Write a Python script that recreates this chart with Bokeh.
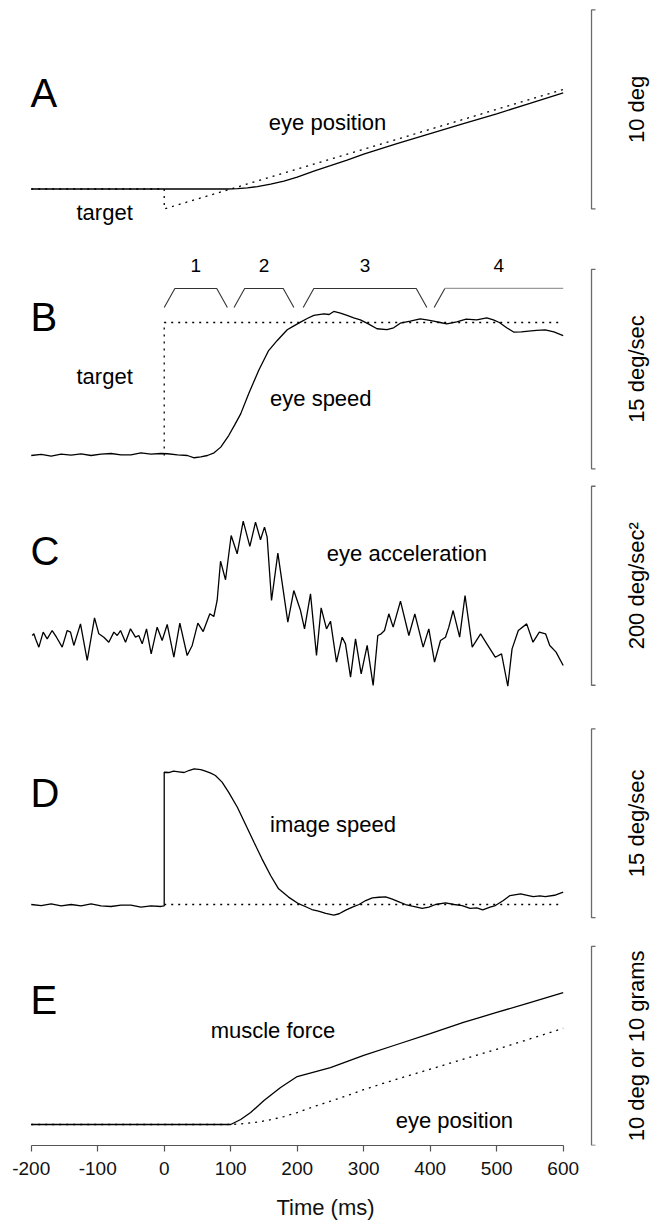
import math
from bokeh.plotting import figure
from bokeh.layouts import column
from bokeh.models import Range1d, FixedTicker
from bokeh.embed import file_html
from bokeh.resources import INLINE
from bokeh.core.properties import value

FONT = "Liberation Sans"

# ---------------- data ----------------
# Panel A / E : eye position (deg) and target position (deg)
eye_pos_t = [-200, 0, 95, 110, 125, 140, 160, 180, 200, 225, 250, 275, 300, 325, 350, 400, 450, 500, 550, 600]
eye_pos = [0, 0, 0, 0.02, 0.06, 0.12, 0.24, 0.40, 0.60, 0.90, 1.17, 1.45, 1.75, 2.02, 2.28, 2.78, 3.28, 3.78, 4.30, 4.83]
target_pos_t = [-200, 0, 0, 600]
target_pos = [0, 0, -1, 5]

# Panel B : eye speed (deg/s) and target speed
eye_speed_t = [-200, -185, -170, -155, -140, -125, -110, -95, -80, -65, -50, -35, -20, -5, 5, 20, 35, 45, 55, 65,
               75, 85, 97, 106, 115, 127, 142, 157, 170, 185, 195, 205, 215, 225, 240, 248, 255, 265, 275, 285,
               295, 307, 320, 335, 345, 355, 370, 385, 395, 405, 415, 425, 440, 454, 470, 485, 495, 504, 515, 526,
               537, 548, 560, 573, 586, 600]
eye_speed = [0.0, 0.08, -0.05, 0.1, 0.03, 0.12, 0.0, 0.1, 0.15, 0.05, 0.05, 0.2, 0.1, 0.15, 0.13, 0.05, 0.0, -0.17, -0.1, 0.0,
             0.2, 0.63, 1.5, 2.3, 3.13, 4.64, 6.39, 7.89, 8.65, 9.45, 9.75, 10.03, 10.3, 10.53, 10.65, 10.6, 10.83, 10.7, 10.53, 10.35,
             10.2, 9.9, 9.53, 9.47, 9.6, 9.95, 10.1, 10.28, 10.2, 10.1, 10.0, 9.9, 10.05, 10.25, 10.2, 10.35, 10.2, 10.0, 9.6, 9.27,
             9.3, 9.35, 9.4, 9.45, 9.3, 9.02]
target_speed_t = [0, 0, 600]
target_speed = [0, 10, 10]

# Analysis epochs shown above panel B
epoch_labels = ["1", "2", "3", "4"]
epoch_start = [0, 105, 209, 406]
epoch_end = [95, 195, 395, 600]

# Panel C : eye acceleration (deg/s^2)
eye_acc_t = [-198.5, -196, -193.5, -188.5, -182, -176, -168.5, -162, -153.4, -145.9, -140.9, -135.9, -125.9, -115.8,
             -104.8, -98.3, -90.8, -83.3, -75.7, -70.7, -65.7, -58.2, -50.7, -43.2, -38.2, -33.1, -26.6, -19.6, -10.6,
             -3.1, 4.5, 14.5, 23.5, 34.5, 42.1, 50.6, 58.6, 68.6, 74.6, 79.6, 84.7, 92.2, 100.7, 109.7, 118.8, 128.8,
             137.3, 144.8, 150.8, 154.8, 161.4, 170.9, 185.9, 194.9, 205.0, 211.0, 220.0, 229.0, 236.0, 244.1, 250.1,
             259.1, 267.6, 272.6, 280.2, 287.7, 296.2, 305.2, 314.2, 321.2, 326.3, 331.3, 337.8, 344.3, 355.3, 367.9,
             376.9, 389.4, 397.9, 406.5, 415.5, 423.0, 428.0, 434.5, 444.3, 452.4, 463.2, 475.8, 485.2, 497.8, 507.3,
             516.7, 523.1, 532.5, 545.1, 554.6, 564.1, 573.5, 579.8, 589.3, 600.0]
eye_acc = [2.0, 3.7, -1.3, -9.7, 5.4, -1.3, 7.0, 0.3, -9.7, 7.0, 5.4, -8.0, 13.7, -23.1,
           19.8, 3.7, 0.3, -4.7, 5.4, 2.0, 7.0, -4.7, 8.7, 0.3, 2.0, -6.4, 8.7, -16.4, 10.4,
           -3.0, 13.1, -19.8, 14.4, -18.1, -8.0, 14.4, 6.0, 23.8, 21.1, 37.2, 76.7, 58.0, 102.5, 84.1, 116.9, 91.5,
           115.9, 98.2, 110.9, 100.8, 37.2, 84.8, 15.4, 47.2, 27.1, 8.7, 43.9, -18.1, 29.8, 8.7, 16.4,
           -24.8, 0.3, -6.4, -39.9, -1.3, -36.5, -8.0, -48.2, 2.0, 3.7, 7.0, 23.8, 10.4, 36.5, 2.0,
           23.8, -9.7, 8.7, -24.8, -3.0, 0.3, 10.4, 27.1, 0.3, 42.2, -9.7, 3.7, -6.4, -19.8, -16.4,
           -49.0, -11.4, 7.0, 13.7, -4.7, 5.4, 3.7, -8.0, -14.7, -28.1]

# Panel D : image speed (deg/s)
image_speed_t = [-200, -185, -170, -155, -140, -125, -110, -95, -80, -65, -50, -35, -20, -5, 0, 0, 7, 14, 22, 30,
                 37, 45, 55, 62, 70, 77, 87, 97, 110, 122, 135, 147, 160, 172, 187, 202, 212, 222, 232, 243,
                 255, 263, 273, 283, 293, 303, 313, 323, 333, 343, 353, 363, 373, 388, 398, 408, 423, 436, 448, 460,
                 470, 479, 490, 498, 510, 520, 536, 546, 555, 565, 573, 587, 600]
image_speed = [0.0, -0.08, 0.05, -0.1, 0.0, -0.1, 0.05, -0.1, -0.15, -0.05, -0.05, -0.2, -0.1, -0.15, -0.1, 10.02, 10.0, 10.1, 10.05, 10.0,
               10.15, 10.27, 10.22, 10.1, 9.95, 9.77, 9.27, 8.5, 7.37, 6.1, 4.72, 3.46, 2.2, 1.19, 0.56, 0.06, -0.15, -0.38, -0.5, -0.68,
               -0.8, -0.7, -0.43, -0.2, 0.0, 0.3, 0.5, 0.55, 0.58, 0.4, 0.2, 0.0, -0.13, -0.3, -0.2, 0.0, 0.13, 0.0, -0.08, -0.3,
               -0.25, -0.4, -0.2, -0.08, 0.3, 0.68, 0.81, 0.7, 0.6, 0.65, 0.6, 0.7, 0.93]
image_zero_t = [0, 600]
image_zero = [0, 0]

# Panel E : muscle force (grams)
force_t = [-200, 100, 115, 130, 150, 175, 200, 250, 300, 350, 400, 450, 500, 550, 600]
force = [0, 0, 0.25, 0.6, 1.21, 1.86, 2.41, 2.86, 3.47, 4.02, 4.57, 5.13, 5.63, 6.13, 6.63]

# x axis
tick_values = [-200, -100, 0, 100, 200, 300, 400, 500, 600]
tick_labels = ["-200", "-100", "0", "100", "200", "300", "400", "500", "600"]

# ---------------- styling / layout ----------------
X_RANGE = Range1d(-246.2, 731.3)
FRAME_W = 650
SB_X = 642.6       # scale bar x (ms units of the shared x scale)
SB_LBL_X = 710.0   # rotated scale label x
LETTER_X = -201
TRACE = dict(line_color="black", line_width=1.3)
DOTS = dict(line_color="black", line_width=1.3, line_dash="2 5")


def make_fig(h, y0, y1, axis=False):
    p = figure(frame_width=FRAME_W, frame_height=h, x_range=X_RANGE, y_range=Range1d(y0, y1),
               output_backend="svg", toolbar_location=None, min_border=0,
               x_axis_location="below" if axis else None, y_axis_location=None)
    p.outline_line_color = None
    p.grid.visible = False
    return p


def txt(p, x, y, s, size, align="center", angle=0.0, color="black"):
    p.text(x=[x], y=[y], text=[s], text_font=value(FONT), text_font_size=f"{size}px",
           text_align=align, text_baseline="middle", angle=angle, text_color=color)


def scalebar(p, y0, y1, label):
    p.line([SB_X + 6, SB_X, SB_X, SB_X + 6], [y0, y0, y1, y1], line_color="#6a6a6a", line_width=1.3)
    txt(p, SB_LBL_X, (y0 + y1) / 2, label, 22, angle=math.pi / 2)


# Panel A
pA = make_fig(240, -2.588, 9.472)
pA.line(target_pos_t, target_pos, **DOTS)
pA.line(eye_pos_t, eye_pos, **TRACE)
txt(pA, LETTER_X, 4.80, "A", 40, align="left")
txt(pA, 245.6, 3.34, "eye position", 22)
txt(pA, -89.6, -1.18, "target", 22)
scalebar(pA, -1, 9, "10 deg")

# Panel B
pB = make_fig(236, -1.579, 16.165)
pB.line(target_speed_t, target_speed, **DOTS)
pB.line(eye_speed_t, eye_speed, **TRACE)
txt(pB, LETTER_X, 10.38, "B", 40, align="left")
txt(pB, -89.6, 5.94, "target", 22)
txt(pB, 235.5, 4.29, "eye speed", 22)
SLANT = 16
BR_LO, BR_HI = 11.13, 12.56
for i, (lab, s, e) in enumerate(zip(epoch_labels, epoch_start, epoch_end)):
    if i < 3:
        pB.line([s, s + SLANT, e - SLANT, e], [BR_LO, BR_HI, BR_HI, BR_LO], line_color="#333333", line_width=1.1)
    else:
        pB.line([s, s + SLANT], [BR_LO, BR_HI], line_color="#333333", line_width=1.1)
        pB.line([s + SLANT, e], [BR_HI, BR_HI], line_color="#9a9a9a", line_width=1.3)
    txt(pB, (s + e) / 2, 14.29, lab, 19)
scalebar(pB, -1, 14, "15 deg/sec")

# Panel C
pC = make_fig(224, -63.32, 161.81)
pC.line(eye_acc_t, eye_acc, **TRACE)
txt(pC, LETTER_X, 87.4, "C", 40, align="left")
txt(pC, 365, 84.4, "eye acceleration", 22)
scalebar(pC, -48, 152, "200 deg/sec\u00b2")

# Panel D
pD = make_fig(235, -2.348, 15.455)
pD.line(image_zero_t, image_zero, **DOTS)
pD.line(image_speed_t, image_speed, **TRACE)
txt(pD, LETTER_X, 8.41, "D", 40, align="left")
txt(pD, 253.8, 6.06, "image speed", 22)
scalebar(pD, -1, 13.3, "15 deg/sec")

# Panel E
pE = make_fig(210, -1.055, 9.497, axis=True)
pE.line(eye_pos_t, eye_pos, **DOTS)
pE.line(force_t, force, **TRACE)
txt(pE, LETTER_X, 6.28, "E", 40, align="left")
txt(pE, 163.6, 4.72, "muscle force", 22)
txt(pE, 436.4, 0.2, "eye position", 22)
scalebar(pE, -1.05, 8.95, "10 deg or 10 grams")

ax = pE.xaxis[0]
ax.bounds = (-200, 600)
ax.ticker = FixedTicker(ticks=tick_values)
ax.major_label_overrides = {v: l for v, l in zip(tick_values, tick_labels)}
ax.axis_label = "Time (ms)"
ax.axis_line_color = "#555555"
ax.axis_line_width = 1.2
ax.major_tick_line_color = "#555555"
ax.major_tick_line_width = 1.2
ax.major_tick_in = 0
ax.major_tick_out = 6
ax.minor_tick_line_color = None
ax.major_label_text_font = FONT
ax.major_label_text_font_size = "19px"
ax.major_label_text_color = "#111111"
ax.major_label_standoff = 10
ax.axis_label_text_font = FONT
ax.axis_label_text_font_size = "22px"
ax.axis_label_text_font_style = "normal"
ax.axis_label_text_color = "#111111"
ax.axis_label_standoff = 17

layout = column(pA, pB, pC, pD, pE, spacing=0)
open("out.html", "w").write(file_html(layout, INLINE))
